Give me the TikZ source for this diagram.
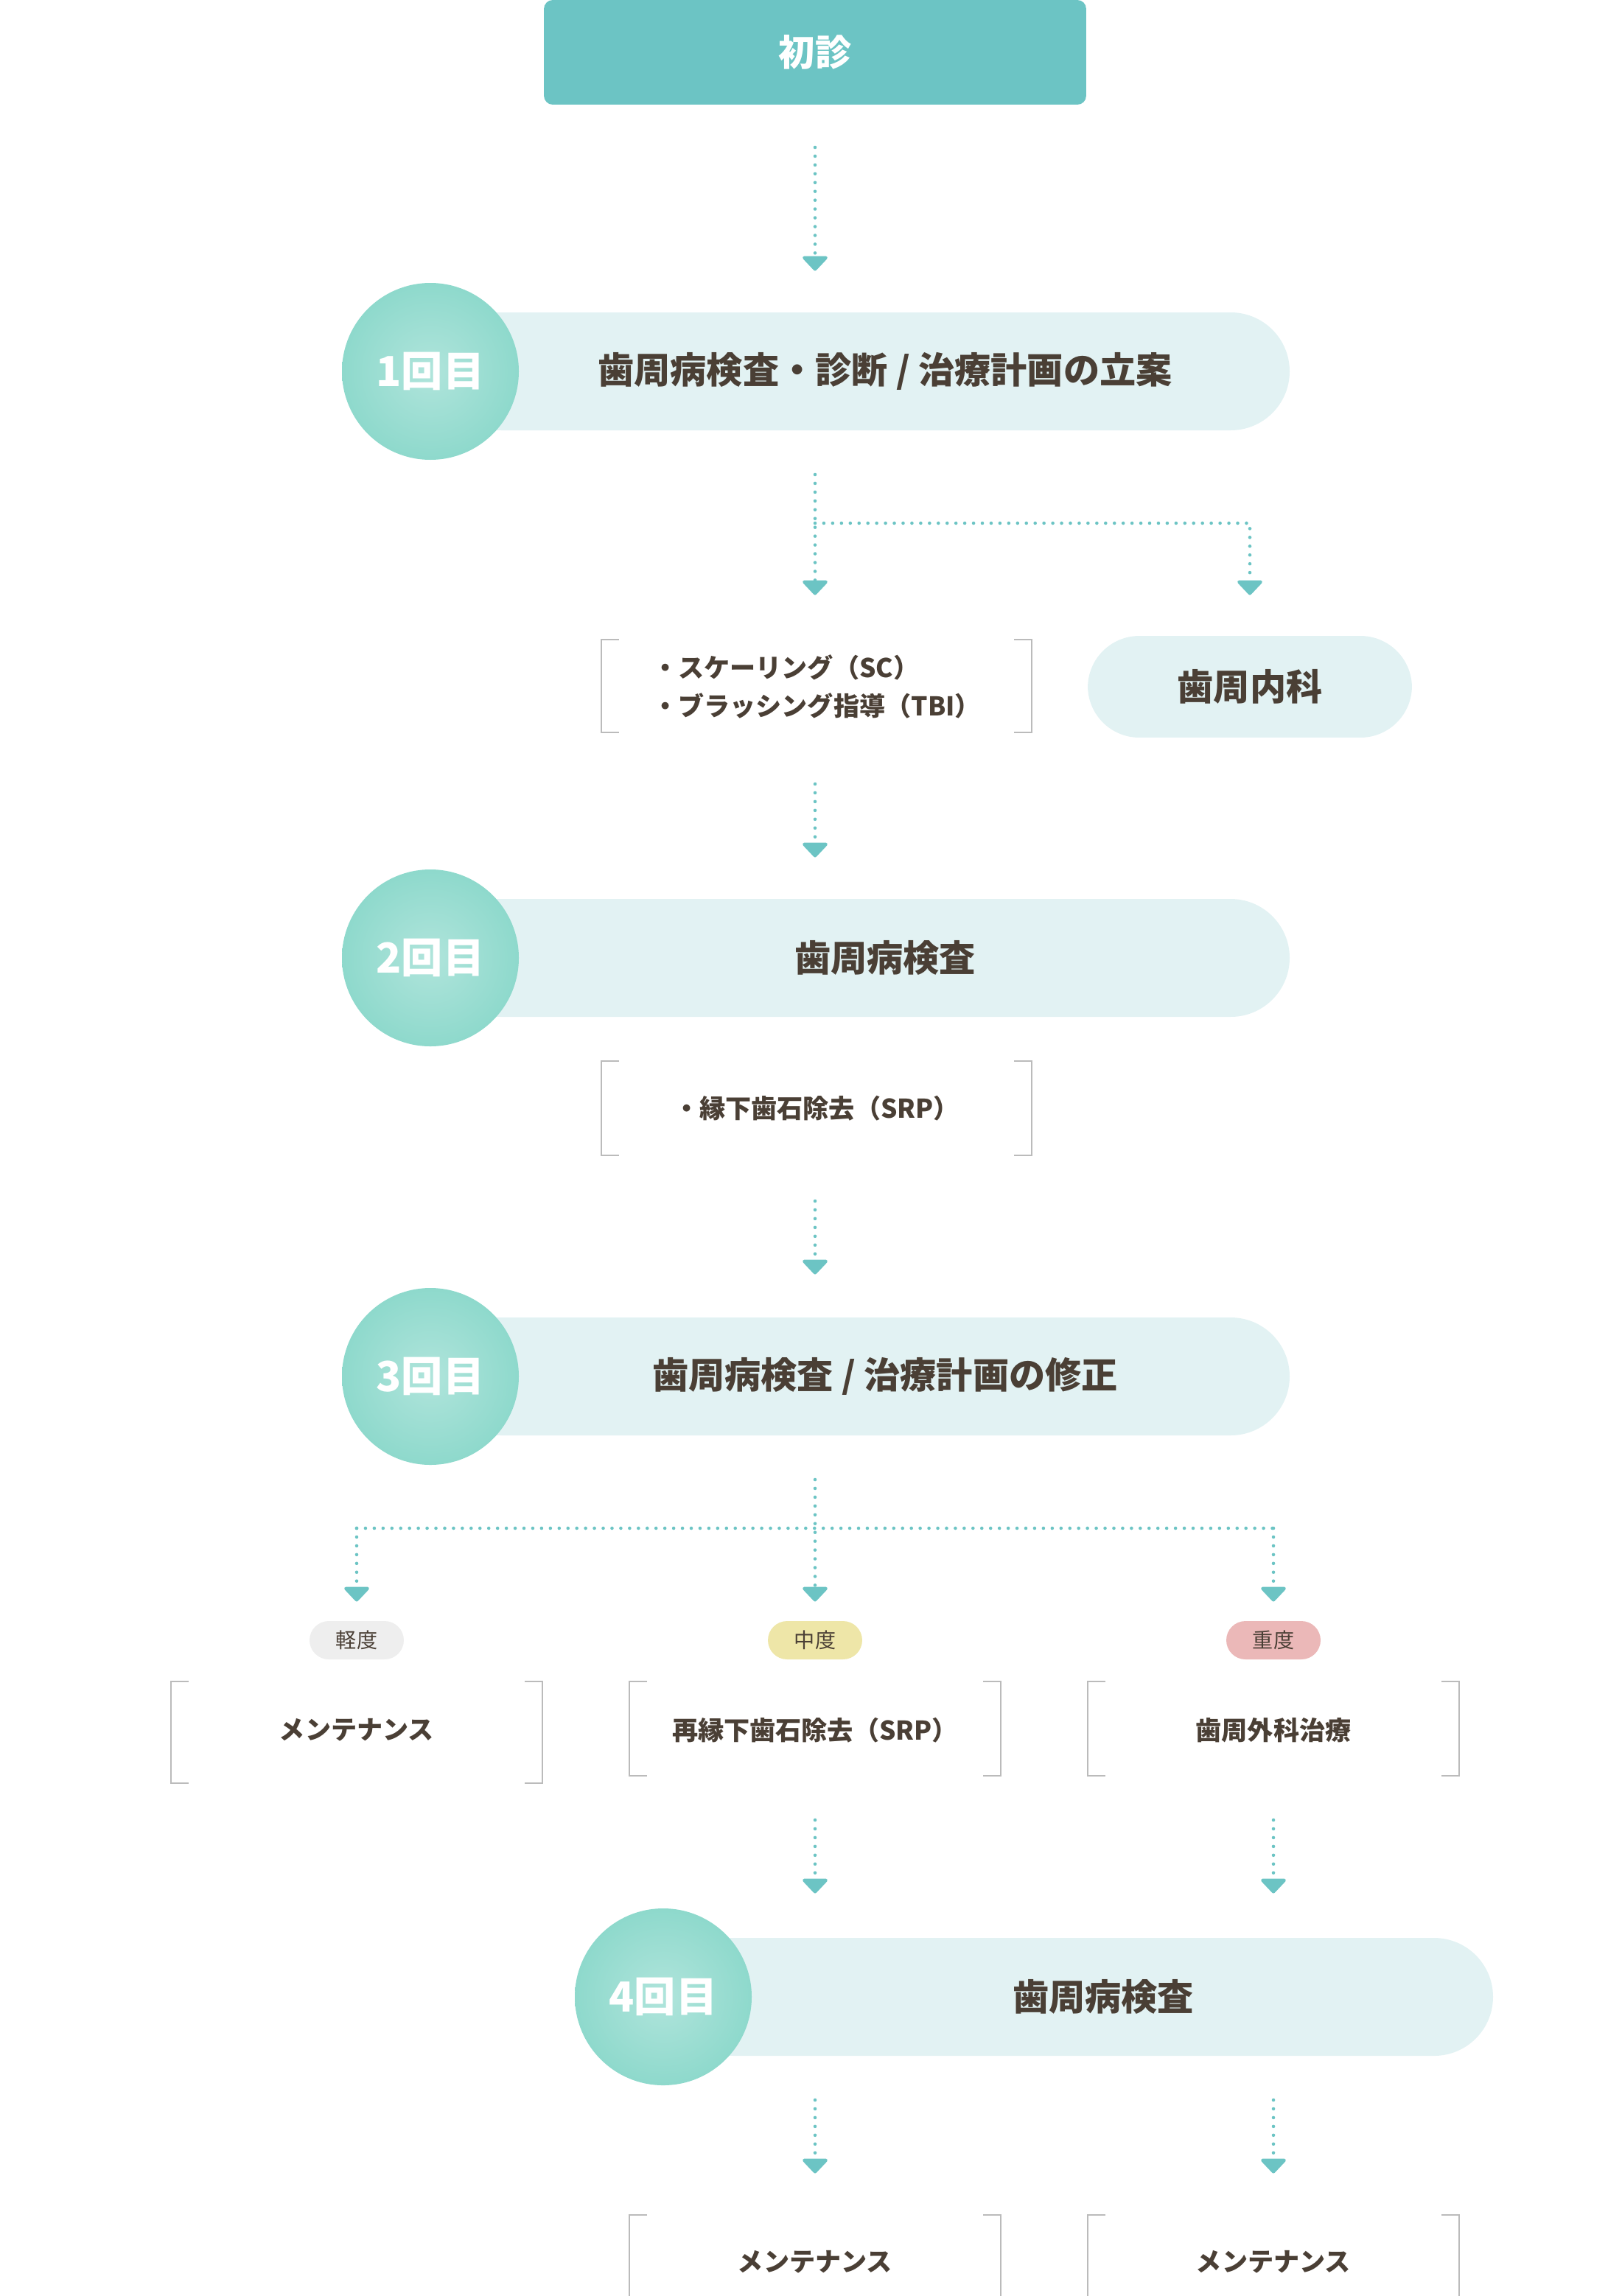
\documentclass[tikz,border=0pt]{standalone}
\usepackage{fontspec}
\setmainfont{Noto Sans CJK JP}
\usetikzlibrary{arrows.meta,positioning}
\definecolor{teal}{HTML}{6CC4C4}
\definecolor{pale}{HTML}{E2F2F3}
\definecolor{blob}{HTML}{8ED9CC}
\definecolor{ink}{HTML}{4A3F35}
\definecolor{frame}{HTML}{BBBBBB}
\definecolor{taggray}{HTML}{EEEEEE}
\definecolor{tagyellow}{HTML}{EEE6A8}
\definecolor{tagpink}{HTML}{EBB8B8}
\begin{document}
\begin{tikzpicture}[x=0.02cm, y=-0.02cm,
        dots/.style = {teal, line width=1.3pt, line cap=round, dash pattern=on 0pt off 3.4pt},
        flow/.style = {dots,
            -{Triangle[width=11pt, length=6pt, line cap=butt, round=false, sep=-1pt]}},
        bartext/.style = {font=\bfseries\fontsize{14}{16}\selectfont, text=ink},
        small/.style = {font=\bfseries\fontsize{10}{15}\selectfont, text=ink, align=left},
        tag/.style = {fill=#1, rounded corners=0.26cm, minimum width=1.28cm,
            minimum height=0.52cm, inner sep=0pt, text=ink,
            font=\fontsize{8}{9}\selectfont},
        number/.style = {text=white, font=\bfseries\fontsize{16}{18}\selectfont},
        bracket/.style = {frame, line width=0.6pt}
        ]
\useasboundingbox (0,0) rectangle (1100,1558);
% bracket frame
\newcommand{\brk}[4]{%
  \draw[bracket] (#1+12,#3) -- (#1,#3) -- (#1,#4) -- (#1+12,#4);
  \draw[bracket] (#2-12,#3) -- (#2,#3) -- (#2,#4) -- (#2-12,#4);}
% stage bar with blob
\newcommand{\stage}[6]{%
  \fill[pale, rounded corners=0.8cm] (#1,#3-40) rectangle (#2,#3+40);
  \shade[inner color=blob!70, outer color=blob] (#1-8,#3) ellipse (60 and 60);
  \node[number] (#4) at (#1-8,#3) {#5};
  \node[bartext] (#4t) at ({(#1+#2)/2+13},#3) {#6};}
%
\node[fill=teal, rounded corners=0.12cm, minimum width=7.36cm, minimum height=1.42cm,
      text=white, font=\bfseries\fontsize{14}{16}\selectfont] (first) at (553,35.5) {初診};
\coordinate (a0) at (553,100); \coordinate (a1) at (553,182);
\draw[flow] (a0) -- (a1);
%
\stage{300}{875}{252}{n1}{1回目}{歯周病検査・診断 / 治療計画の立案}
%
\coordinate (b0) at (553,322); \coordinate (b1) at (553,402);
\coordinate (c0) at (553,355); \coordinate (c1) at (848,355); \coordinate (c2) at (848,402);
\draw[flow] (b0) -- (b1);
\draw[flow] (c0) -- (c1) -- (c2);
\brk{408}{700}{434}{497}
\node[small] (sc) at (554,466) {・スケーリング（SC）\\・ブラッシング指導（TBI）};
\node[fill=pale, rounded corners=0.7cm, minimum width=4.4cm, minimum height=1.38cm,
      font=\bfseries\fontsize{14}{16}\selectfont, text=ink] (naika) at (848,466) {歯周内科};
\coordinate (d0) at (553,532); \coordinate (d1) at (553,580);
\draw[flow] (d0) -- (d1);
%
\stage{300}{875}{650}{n2}{2回目}{歯周病検査}
%
\brk{408}{700}{720}{784}
\node[small] (srp) at (554,752) {・縁下歯石除去（SRP）};
\coordinate (e0) at (553,815); \coordinate (e1) at (553,863);
\draw[flow] (e0) -- (e1);
%
\stage{300}{875}{934}{n3}{3回目}{歯周病検査 / 治療計画の修正}
%
\coordinate (f0) at (553,1004); \coordinate (f1) at (553,1085);
\coordinate (g0) at (242,1037); \coordinate (g1) at (242,1085);
\coordinate (h0) at (864,1037); \coordinate (h1) at (864,1085);
\draw[flow] (f0) -- (f1);
\draw[dots] (g0) -- (h0);
\draw[flow] (g0) -- (g1);
\draw[flow] (h0) -- (h1);
\node[tag=taggray] (light) at (242,1113) {軽度};
\node[tag=tagyellow] (mid) at (553,1113) {中度};
\node[tag=tagpink] (heavy) at (864,1113) {重度};
\brk{116}{368}{1141}{1210}
\brk{427}{679}{1141}{1205}
\brk{738}{990}{1141}{1205}
\node[small] (m1) at (242,1174) {メンテナンス};
\node[small] (resrp) at (553,1174) {再縁下歯石除去（SRP）};
\node[small] (geka) at (864,1174) {歯周外科治療};
\coordinate (i0) at (553,1235); \coordinate (i1) at (553,1283);
\coordinate (j0) at (864,1235); \coordinate (j1) at (864,1283);
\draw[flow] (i0) -- (i1);
\draw[flow] (j0) -- (j1);
%
\stage{458}{1013}{1355}{n4}{4回目}{歯周病検査}
%
\coordinate (k0) at (553,1425); \coordinate (k1) at (553,1473);
\coordinate (l0) at (864,1425); \coordinate (l1) at (864,1473);
\draw[flow] (k0) -- (k1);
\draw[flow] (l0) -- (l1);
\brk{427}{679}{1503}{1575}
\brk{738}{990}{1503}{1575}
\node[small] (m2) at (553,1535) {メンテナンス};
\node[small] (m3) at (864,1535) {メンテナンス};
\end{tikzpicture}
\end{document}
